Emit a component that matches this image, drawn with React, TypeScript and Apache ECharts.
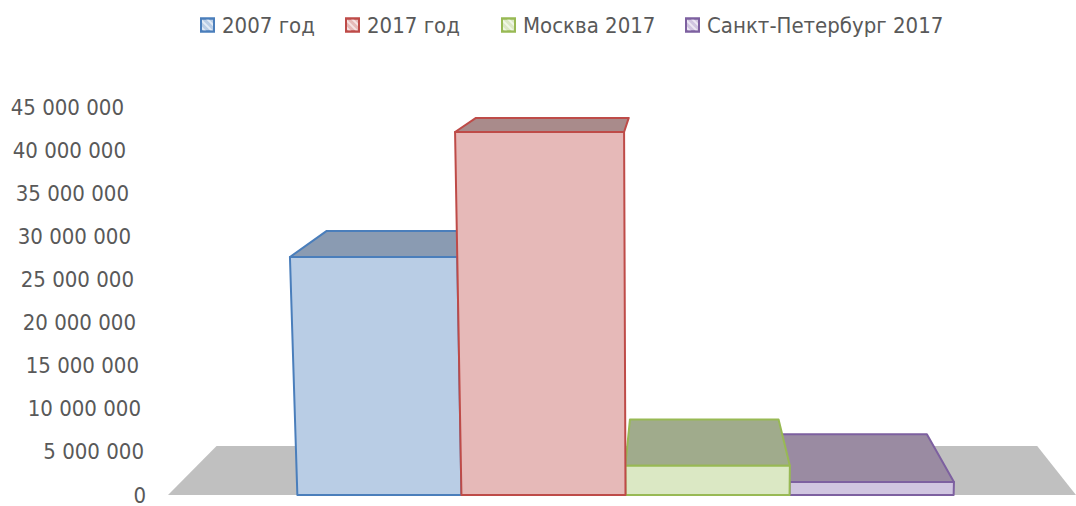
import React, { useEffect, useRef } from "react";
import * as echarts from "echarts";

const categories = [""];
const seriesNames = ["2007 год", "2017 год", "Москва 2017", "Санкт-Петербург 2017"];
const values2007 = [27600000];
const values2017 = [42100000];
const valuesMoscow = [3400000];
const valuesSpb = [1500000];
const yTicks = [0, 5000000, 10000000, 15000000, 20000000, 25000000, 30000000, 35000000, 40000000, 45000000];

const FONT = "'Liberation Sans Narrow', 'DejaVu Sans Condensed', 'Open Sans', sans-serif";
const TEXT = "#595959";

// perspective constants (pixels)
const VP_DX = 50.5; // vanishing point x relative to band centre
const VP_DY = -509.5; // vanishing point y relative to floor front
const DEPTH_T = 0.0962;
const SLANT_K = 8.3e-5;
const BAR_FRAC = 0.1807;
const BAR_OFF = 3.5;
const LEGEND_LEFTS = [200, 345, 501, 685];

const styles = [
  { front: "#b9cde5", top: "#8a9bb2", border: "#4a7ebb" },
  { front: "#e6b9b8", top: "#a98b8b", border: "#be4b48" },
  { front: "#dbe8c4", top: "#a0ab8c", border: "#98b954" },
  { front: "#d0c5e0", top: "#9a8ba2", border: "#7d60a0" },
];

const fmt = (v: number) => String(v).replace(/\B(?=(\d{3})+(?!\d))/g, " ");

const hatch = {
  symbol: "rect",
  symbolSize: 1,
  dashArrayX: [1, 0],
  dashArrayY: [2, 3],
  rotation: Math.PI / 4,
  color: "rgba(255,255,255,0.6)",
};

function makeRender(i: number) {
  return (params: any, api: any) => {
    const base = api.coord([api.value(0), 0]);
    const topP = api.coord([api.value(0), api.value(1)]);
    const band = api.size([1, 0])[0];
    const barW = band * BAR_FRAC;
    const y0 = base[1];
    const yT = topP[1];
    const vx = base[0] + VP_DX;
    const vy = y0 + VP_DY;
    const xL = base[0] - 2 * barW + BAR_OFF + i * barW;
    const xR = xL + barW;
    const proj = (X: number, y: number) => [vx + (X - vx) * (1 + SLANT_K * (y0 - y)), y];
    const back = (p: number[]) => [p[0] + (vx - p[0]) * DEPTH_T, p[1] + (vy - p[1]) * DEPTH_T];
    const fl = proj(xL, y0), fr = proj(xR, y0), tr = proj(xR, yT), tl = proj(xL, yT);
    const bl = back(tl), br = back(tr);
    const s = styles[i];
    return {
      type: "group",
      children: [
        {
          type: "polygon",
          shape: { points: [tl, tr, br, bl] },
          style: { fill: s.top, stroke: s.border, lineWidth: 2, lineJoin: "round" },
        },
        {
          type: "polygon",
          shape: { points: [fl, fr, tr, tl] },
          style: { fill: s.front, stroke: s.border, lineWidth: 2, lineJoin: "round" },
        },
      ],
    };
  };
}

function renderFloor(params: any, api: any) {
  const base = api.coord([api.value(0), 0]);
  const band = api.size([1, 0])[0];
  const y0 = base[1];
  const vx = base[0] + VP_DX;
  const vy = y0 + VP_DY;
  const back = (p: number[]) => [p[0] + (vx - p[0]) * DEPTH_T, p[1] + (vy - p[1]) * DEPTH_T];
  const fl = [base[0] - band / 2, y0];
  const fr = [base[0] + band / 2, y0];
  return {
    type: "polygon",
    shape: { points: [fl, fr, back(fr), back(fl)] },
    style: { fill: "#c0c0c0" },
  };
}

export default function App() {
  const ref = useRef<HTMLDivElement>(null);
  useEffect(() => {
    if (!ref.current) return;
    const chart = echarts.init(ref.current, undefined, { renderer: "svg" });
    const allValues = [values2007, values2017, valuesMoscow, valuesSpb];
    const zs = [4, 5, 3, 2];
    const rich: any = {};
    yTicks.forEach((_, idx) => {
      rich["p" + idx] = {
        fontFamily: FONT,
        fontSize: 22,
        color: TEXT,
        padding: [0, Math.round((idx * 22) / 9), 0, 0],
      };
    });
    chart.setOption({
      animation: false,
      aria: { enabled: true, decal: { show: true } },
      grid: { left: 168, top: 107, width: 913, height: 390.5, containLabel: false },
      legend: seriesNames.map((name, i) => ({
        data: [name],
        left: LEGEND_LEFTS[i],
        top: 14,
        padding: 0,
        icon: "rect",
        itemWidth: 13,
        itemHeight: 13,
        textStyle: { fontFamily: FONT, fontSize: 22, color: TEXT, padding: [0, 0, 0, 3] },
      })),
      xAxis: {
        type: "category",
        data: categories,
        axisLine: { show: false },
        axisTick: { show: false },
        axisLabel: { show: false },
        splitLine: { show: false },
      },
      yAxis: {
        type: "value",
        min: 0,
        max: 45000000,
        interval: 5000000,
        axisLine: { show: false },
        axisTick: { show: false },
        splitLine: { show: false },
        axisLabel: {
          margin: 22,
          formatter: (v: number, idx: number) => `{p${yTicks.indexOf(v) >= 0 ? yTicks.indexOf(v) : idx}|${fmt(v)}}`,
          rich,
        },
      },
      series: [
        {
          type: "custom",
          name: "floor",
          z: 1,
          silent: true,
          renderItem: renderFloor,
          itemStyle: { decal: "none" },
          data: categories.map((_, k) => [k, 0]),
        },
        ...seriesNames.map((name, i) => ({
          type: "custom",
          name,
          z: zs[i],
          renderItem: makeRender(i),
          itemStyle: { color: styles[i].front, borderColor: styles[i].border, borderWidth: 1.5, decal: hatch },
          encode: { x: 0, y: 1 },
          data: allValues[i].map((v, k) => [k, v]),
        })),
      ],
    });
    return () => chart.dispose();
  }, []);
  return <div ref={ref} style={{ position: "absolute", left: 0, top: 0, width: 1076, height: 506 }} />;
}
